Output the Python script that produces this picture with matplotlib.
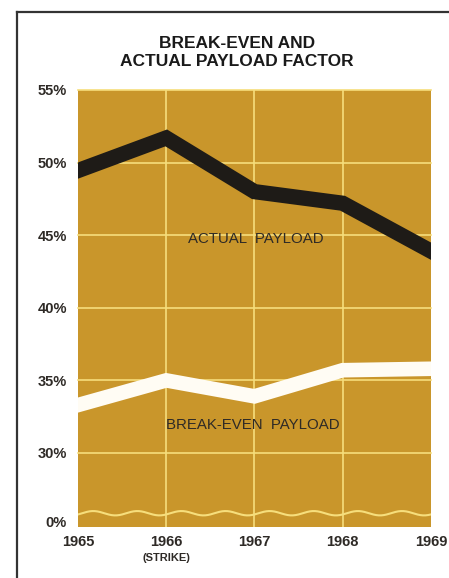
import numpy as np
import matplotlib
matplotlib.use('Agg')
import matplotlib.pyplot as plt
from matplotlib.lines import Line2D

years = [1965, 1966, 1967, 1968, 1969]
year_labels = ['1965', '1966', '1967', '1968', '1969']
actual_payload = [49.45, 51.7, 48.0, 47.2, 43.9]
breakeven_payload = [33.3, 35.0, 33.9, 35.7, 35.8]
y_ticks = [25.3, 30, 35, 40, 45, 50, 55]
y_tick_labels = ['0%', '30%', '35%', '40%', '45%', '50%', '55%']

GOLD = '#C9962B'
GRID = '#F6DE7C'
TEXT = '#2E2A26'

plt.rcParams['font.family'] = ['Liberation Sans', 'DejaVu Sans']

fig = plt.figure(figsize=(4.49, 5.78), dpi=100)
ax = fig.add_axes([0.1737, 0.0882, 0.786, 0.7561])
ax.set_facecolor(GOLD)

ax.set_xlim(1965, 1969)
ax.set_ylim(24.9, 55)

# grid (top line at 55 sits on the edge)
for y in y_ticks[1:]:
    ax.axhline(y, color=GRID, lw=1.2, zorder=1, clip_on=False)
for x in years[1:-1]:
    ax.axvline(x, color=GRID, lw=1.2, zorder=1)

# axis-break squiggle near the bottom
xs = np.linspace(1965, 1969, 400)
ax.plot(xs, 25.85 + 0.15 * np.sin(2 * np.pi * (xs - 1965) / 0.5 - 0.6),
        color=GRID, lw=1.5, zorder=1)

ax.plot(years, actual_payload, color='#1E1B17', lw=11,
        solid_capstyle='projecting', solid_joinstyle='miter', zorder=3)
ax.plot(years, breakeven_payload, color='#FFFCF4', lw=10.5,
        solid_capstyle='projecting', solid_joinstyle='miter', zorder=3)

ax.text(1967.02, 44.75, 'ACTUAL  PAYLOAD', ha='center', va='center',
        fontsize=10.8, color=TEXT, zorder=4)
ax.text(1966.98, 31.9, 'BREAK-EVEN  PAYLOAD', ha='center', va='center',
        fontsize=10.8, color=TEXT, zorder=4)

ax.set_yticks(y_ticks)
ax.set_yticklabels(y_tick_labels, fontsize=10.5, fontweight='bold', color=TEXT)
ax.set_xticks(years)
ax.set_xticklabels(year_labels, fontsize=10.5, fontweight='bold', color=TEXT)
ax.tick_params(length=0)
ax.tick_params(axis='y', pad=8)
ax.tick_params(axis='x', pad=6)
ax.text(1966, -0.07, '(STRIKE)', transform=ax.get_xaxis_transform(),
        ha='center', va='center', fontsize=8, fontweight='bold', color=TEXT)

for s in ax.spines.values():
    s.set_visible(False)

fig.text(0.528, 0.909, 'BREAK-EVEN AND\nACTUAL PAYLOAD FACTOR', ha='center',
         va='center', fontsize=12.5, fontweight='bold', color='#1A1A1A',
         linespacing=1.25)

# page frame
fig.add_artist(Line2D([0.038, 0.038], [0.0, 0.979], color='#333333', lw=1.6))
fig.add_artist(Line2D([0.038, 1.0], [0.979, 0.979], color='#333333', lw=1.6))

fig.savefig('out.png', dpi=100)
